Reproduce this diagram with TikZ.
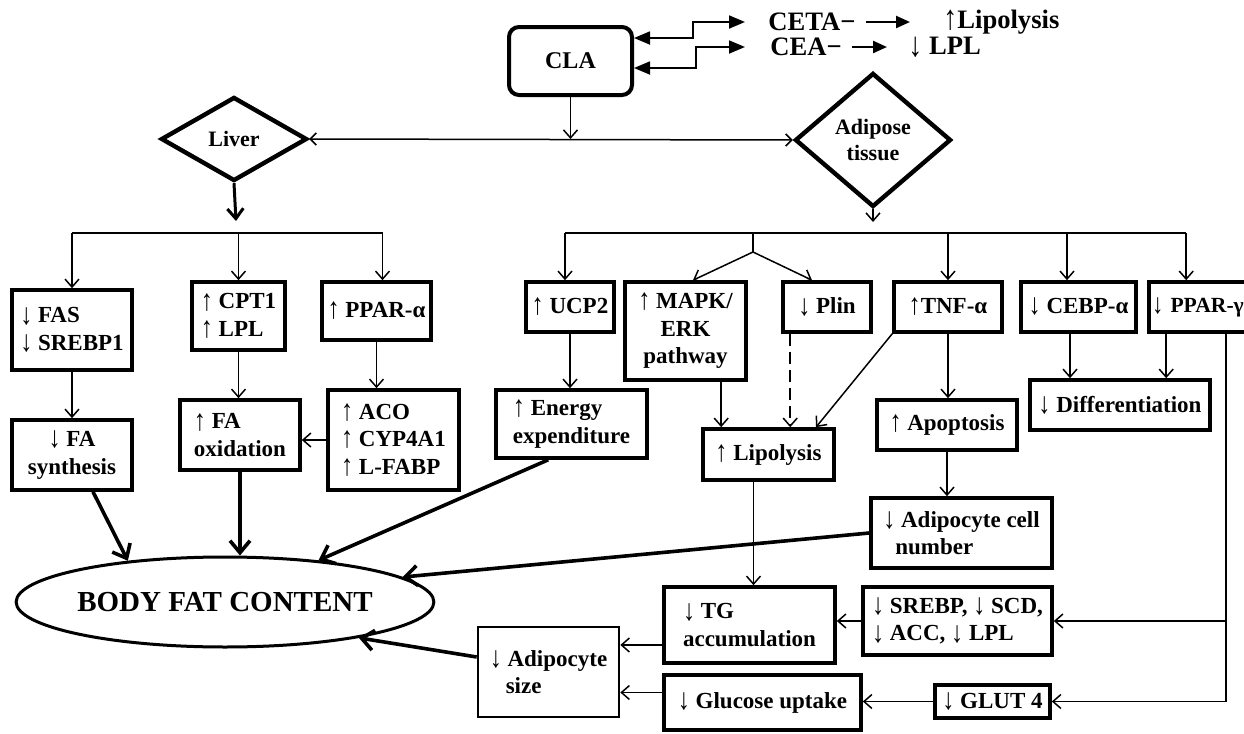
\documentclass[tikz,border=0pt]{standalone}
\usepackage{fontspec}
\setmainfont{Liberation Serif}
\usetikzlibrary{arrows.meta,shapes.geometric,calc}
\newcommand\bxfont{\fontsize{11.5}{13.8}\selectfont\bfseries}
\newcommand\topfont{\fontsize{13.3}{15}\selectfont\bfseries}
\newcommand\arrdn{\raisebox{-0.12ex}{\scalebox{1.05}[1.3]{↓}}}
\newcommand\arrup{\raisebox{-0.12ex}{\scalebox{1.05}[1.3]{↑}}}
\tikzset{
  bx/.style={draw, line width=1.8pt, inner sep=2pt, font=\bxfont, align=left},
  conn/.style={line width=0.75pt},
  tarr/.style={conn, -{Straight Barb[length=4pt,width=7pt]}},
  karr/.style={line width=1.8pt, -{Straight Barb[length=6pt,width=10pt]}},
  elb/.style={line width=0.9pt, {Triangle[length=8pt,width=6.5pt]}-{Triangle[length=8pt,width=6.5pt]}},
  tri/.style={line width=1.2pt, -{Triangle[length=7pt,width=6pt]}},
  toptxt/.style={font=\topfont, inner sep=0pt, anchor=west},
  dia/.style={diamond, draw, line width=2.2pt, inner sep=0pt, font=\fontsize{11}{13}\selectfont\bfseries, align=center},
}
\begin{document}
\begin{tikzpicture}[x=0.5pt,y=-0.5pt]
\useasboundingbox (0,0) rectangle (1244,734);

% top
\node[draw, line width=2pt, rounded corners=5pt, minimum width=61.5pt, minimum height=34pt, font=\fontsize{12}{13}\selectfont\bfseries] (cla) at (570.5,61) {CLA};
\node[toptxt] (ceta) at (768,22) {CETA−};
\node[toptxt] (uplip) at (943,22) {\arrup Lipolysis};
\node[toptxt] (cea) at (770,47) {CEA−};
\node[toptxt] (lpl) at (908,47) {\arrdn{} LPL};
\draw[elb] ([yshift=11.5pt]cla.east) -- ++(29.5pt,0) |- ([xshift=-11.5pt]ceta.west);
\draw[elb] ([yshift=-3.5pt]cla.east) -- ++(31pt,0) |- ([xshift=-12.5pt]cea.west);
\draw[tri] ([xshift=5pt]ceta.east) -- ([xshift=-16.5pt]uplip.west);
\draw[tri] ([xshift=5pt]cea.east) -- ([xshift=-10.5pt]lpl.west);

% diamonds
\node[dia, minimum width=73pt, minimum height=42pt] (liver) at (234,139) {Liver};
\node[dia, minimum width=78pt, minimum height=67pt] (adip) at (873,140) {Adipose\\tissue};
\draw[tarr] (cla.south) -- (cla.south |- liver.east);
\draw[conn, {Straight Barb[length=3pt,width=6pt]}-{Straight Barb[length=3pt,width=6pt]}] (liver.east) -- (adip.west);

\coordinate (lend) at (236,221);
\coordinate (lbus) at (236,233);
\coordinate (aend) at (873,222);
\coordinate (abus) at (873,233);
\coordinate (split) at (753,252);
\draw[line width=1.5pt, -{Straight Barb[length=5pt,width=8pt]}] (liver.south) -- (lend);
\draw[tarr] (adip.south) -- (aend);

% liver column boxes
\node[bx, minimum width=60pt, minimum height=40pt] (fas) at (72,330) {\arrdn{} FAS\\\arrdn{} SREBP1};
\node[bx, minimum width=46.5pt, minimum height=34pt] (cpt) at (238.5,316) {\arrup{} CPT1\\\arrup{} LPL};
\node[bx, minimum width=54.5pt, minimum height=29pt] (ppara) at (376.5,311) {\arrup{} PPAR-α};
\node[bx, minimum width=60pt, minimum height=35pt, align=center] (fasyn) at (72,455) {\arrdn{} FA\\synthesis};
\node[bx, minimum width=60pt, minimum height=35pt] (faox) at (240,435) {\arrup{} FA\\oxidation};
\node[bx, minimum width=65.5pt, minimum height=50pt] (aco) at (393.5,440) {\arrup{} ACO\\\arrup{} CYP4A1\\\arrup{} L-FABP};

% adipose column boxes
\node[bx, minimum width=44pt, minimum height=25pt] (ucp) at (570,307) {\arrup{} UCP2};
\node[bx, minimum width=75.5pt, minimum height=34pt] (energy) at (571.5,424) {\arrup{} Energy\\expenditure};
\node[bx, minimum width=60.5pt, minimum height=49pt, align=center] (mapk) at (685.5,331) {\arrup{} MAPK/\\ERK\\pathway};
\node[bx, minimum width=44pt, minimum height=25pt] (plin) at (827,307) {\arrdn{} Plin};
\node[bx, minimum width=54pt, minimum height=25pt] (tnf) at (948,307) {\arrup TNF-α};
\node[bx, minimum width=57.5pt, minimum height=25pt] (cebp) at (1078.5,307) {\arrdn{} CEBP-α};
\node[bx, minimum width=63pt, minimum height=25pt, inner sep=1pt, text width=60pt, font=\fontsize{10.8}{13}\selectfont\bfseries] (pparg) at (1212,307) {\arrdn{} PPAR-γ};
\node[bx, minimum width=65.5pt, minimum height=25.5pt] (lipo) at (768.5,454.5) {\arrup{} Lipolysis};
\node[bx, minimum width=70pt, minimum height=25pt] (apop) at (947,425) {\arrup{} Apoptosis};
\node[bx, minimum width=90pt, minimum height=25pt] (diff) at (1120,405) {\arrdn{} Differentiation};
\node[bx, minimum width=90.5pt, minimum height=35pt] (adcell) at (961.5,533) {\arrdn{} Adipocyte cell\\\hspace{6pt}number};
\node[bx, minimum width=85.5pt, minimum height=38pt] (tg) at (749.5,625) {\arrdn{} TG\\accumulation};
\node[bx, minimum width=94.5pt, minimum height=34pt] (srebp) at (957.5,621) {\arrdn{} SREBP, \arrdn{} SCD,\\\arrdn{} ACC, \arrdn{} LPL};
\node[bx, minimum width=57.5pt, minimum height=16.5pt] (glut) at (992.5,701.5) {\arrdn{} GLUT 4};
\node[bx, minimum width=98.5pt, minimum height=27.5pt] (glucose) at (762.5,702.5) {\arrdn{} Glucose uptake};
\node[bx, line width=1.3pt, minimum width=70.5pt, minimum height=45pt] (adsize) at (548.5,672) {\arrdn{} Adipocyte\\\hspace{8pt}size};

\node[ellipse, draw, line width=1.5pt, minimum width=164pt, minimum height=45pt, inner sep=0pt, font=\fontsize{14.5}{16}\selectfont\bfseries] (body) at (225,602) {BODY FAT CONTENT};

% liver bus
\draw[conn] (fas.north |- lbus) -- ([xshift=3pt]ppara.north |- lbus);
\draw[tarr] (fas.north |- lbus) -- (fas.north);
\draw[tarr] (cpt.north |- lbus) -- (cpt.north);
\draw[tarr] ([xshift=3pt]ppara.north |- lbus) -- ([xshift=3pt]ppara.north);

% adipose bus
\draw[conn] ([xshift=-2.5pt]ucp.north |- abus) -- ([xshift=19.5pt]pparg.north west |- abus);
\draw[tarr] ([xshift=-2.5pt]ucp.north |- abus) -- ([xshift=-2.5pt]ucp.north);
\draw[conn] (split |- abus) -- (split);
\draw[tarr] (split) -- ([xshift=3.75pt]mapk.north);
\draw[tarr] (split) -- ([xshift=-7.5pt]plin.north);
\draw[tarr] (tnf.north |- abus) -- (tnf.north);
\draw[tarr] ([xshift=-5.75pt]cebp.north |- abus) -- ([xshift=-5.75pt]cebp.north);
\draw[tarr] ([xshift=19.5pt]pparg.north west |- abus) -- ([xshift=19.5pt]pparg.north west);

% liver column links
\draw[tarr] (fas.south) -- (fasyn.north);
\draw[tarr] (cpt.south) -- (cpt.south |- faox.north);
\draw[tarr] (ppara.south) -- (ppara.south |- aco.north);
\draw[tarr] (aco.west) -- (aco.west -| faox.east);

% adipose column links
\draw[tarr] (ucp.south) -- (ucp.south |- energy.north);
\draw[tarr] ([xshift=10pt]lipo.north west |- mapk.south) -- ([xshift=10pt]lipo.north west);
\draw[conn, dashed, dash pattern=on 6pt off 3pt, -{Straight Barb[length=4pt,width=7pt]}] ([xshift=4.5pt]plin.south west) -- ([xshift=4.5pt]plin.south west |- lipo.north);
\draw[tarr] (tnf.south west) -- ([xshift=23.75pt]lipo.north);
\draw[tarr] (tnf.south) -- (tnf.south |- apop.north);
\draw[tarr] (apop.south) -- (apop.south |- adcell.north);
\draw[tarr] ([xshift=-4.25pt]cebp.south) -- ([xshift=-4.25pt]cebp.south |- diff.north);
\draw[tarr] ([xshift=9.5pt]pparg.south west) -- ([xshift=9.5pt]pparg.south west |- diff.north);
\draw[tarr] ([xshift=39.5pt]pparg.south west) |- (glut.east);
\draw[tarr] ([xshift=39.5pt]pparg.south west |- srebp.east) -- (srebp.east);
\draw[tarr] ([xshift=2pt]tg.north |- lipo.south) -- ([xshift=2pt]tg.north);
\draw[tarr] (srebp.west) -- (srebp.west -| tg.east);
\draw[tarr] (glut.west) -- (glut.west -| glucose.east);
\draw[tarr] ([yshift=-10pt]tg.west) -- ([yshift=-10pt]tg.west -| adsize.east);
\draw[tarr] ([yshift=5pt]glucose.west) -- ([yshift=5pt]glucose.west -| adsize.east);

% to body fat content
\draw[karr] ([xshift=10.5pt]fasyn.south) -- (body.157);
\draw[karr] (faox.south) -- (faox.south |- body.north);
\draw[karr] ([xshift=27pt]energy.south west) -- (body.24);
\draw[karr] (adcell.west) -- (body.8);
\draw[karr] ([yshift=7.5pt]adsize.west) -- (body.-15);
\end{tikzpicture}
\end{document}
